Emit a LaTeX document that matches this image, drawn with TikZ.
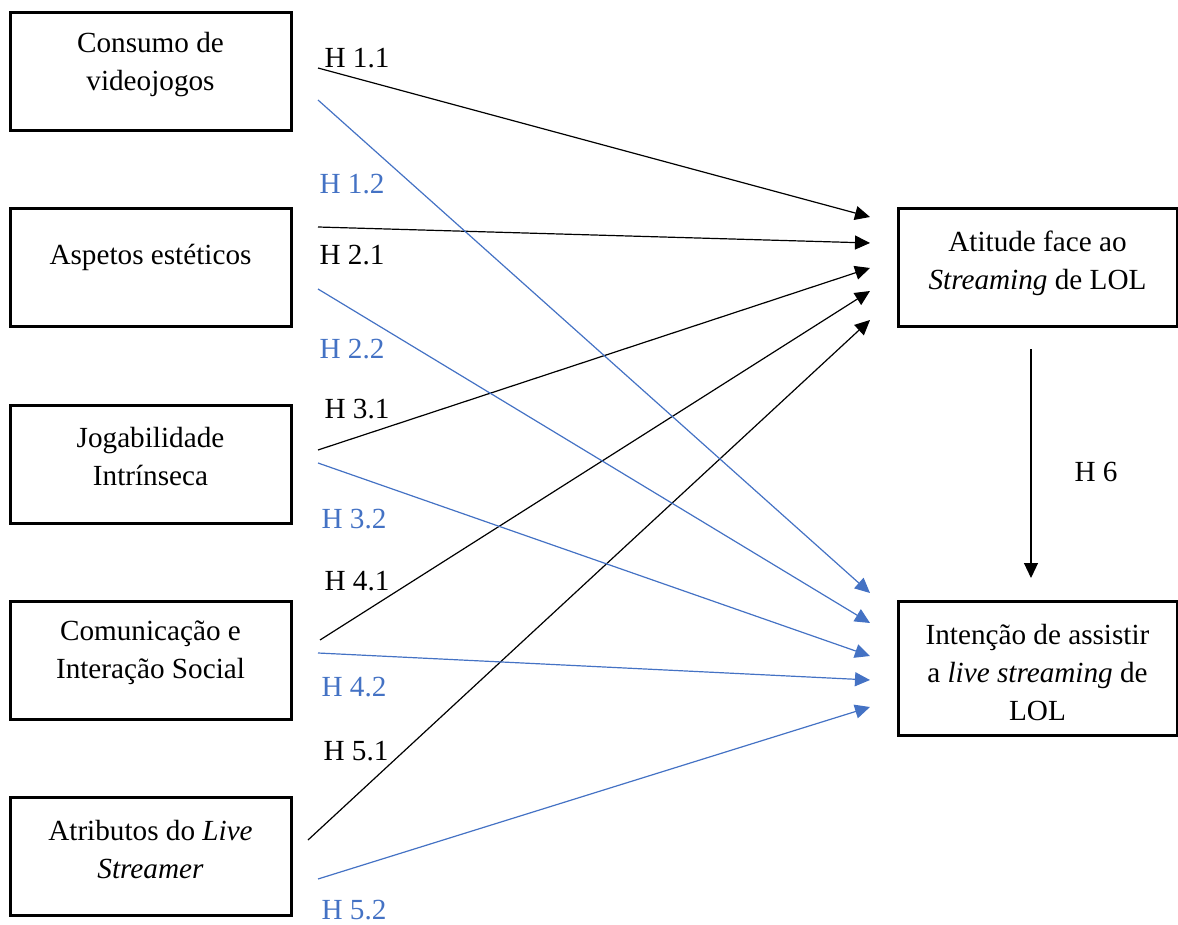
\documentclass[tikz,border=0pt]{standalone}
\usepackage{fontspec}
\setmainfont{Liberation Serif}
\usetikzlibrary{arrows.meta}
\definecolor{hblue}{HTML}{4472C4}
\begin{document}
\begin{tikzpicture}[x=0.5pt,y=-0.5pt,
  box/.style={draw=black,line width=1.5pt,inner sep=0pt,minimum width=140.5pt,minimum height=59pt},
  txt/.style={font=\fontsize{14.6}{19}\selectfont,align=center,inner sep=0pt},
  conn/.style={line width=0.6pt,-{Triangle[length=7.5pt,width=7pt]}},
  blk/.style={conn,black},
  blu/.style={conn,hblue},
  lab/.style={txt},
  blab/.style={txt,text=hblue}]
\useasboundingbox (0,0) rectangle (1178,925);
% left boxes
\node[box] (b1) at (150.5,72) {};
\node[box] (b2) at (150.5,268) {};
\node[box] (b3) at (150.5,464) {};
\node[box] (b4) at (150.5,660) {};
\node[box] (b5) at (150.5,856) {};
\node[txt] (t1) at (150.5,65) {Consumo de\\videojogos};
\node[txt] (t2) at (150.5,257) {Aspetos estéticos};
\node[txt] (t3) at (150.5,457) {Jogabilidade\\Intrínseca};
\node[txt] (t4) at (150.5,653) {Comunicação e\\Interação Social};
\node[txt] (t5) at (150.5,850) {Atributos do \textit{Live}\\\textit{Streamer}};
% right boxes
\node[box,minimum width=139.5pt] (ra) at (1037.5,268) {};
\node[box,minimum width=139.5pt,minimum height=67pt] (rb) at (1037.5,668) {};
\node[txt] (ta) at (1037.5,263) {Atitude face ao\\\textit{Streaming} de LOL};
\node[txt] (tb) at (1037.5,673) {Intenção de assistir\\a \textit{live streaming} de\\LOL};
% coordinates
\coordinate (s11) at (318,68);   \coordinate (e11) at (870,217);
\coordinate (s21) at (318,227);  \coordinate (e21) at (870,243);
\coordinate (s31) at (318,450);  \coordinate (e31) at (870,268);
\coordinate (s41) at (320,640);  \coordinate (e41) at (870,291);
\coordinate (s51) at (308,840);  \coordinate (e51) at (870,320);
\coordinate (s12) at (318,100);  \coordinate (e12) at (870,593);
\coordinate (s22) at (318,289);  \coordinate (e22) at (870,623);
\coordinate (s32) at (318,463);  \coordinate (e32) at (870,656);
\coordinate (s42) at (318,653);  \coordinate (e42) at (870,680);
\coordinate (s52) at (318,879);  \coordinate (e52) at (870,707);
\coordinate (s6) at (1031,349);  \coordinate (e6) at (1031,578);
% black arrows
\draw[blk] (s11) -- (e11);
\draw[blk] (s21) -- (e21);
\draw[blk] (s31) -- (e31);
\draw[blk] (s41) -- (e41);
\draw[blk] (s51) -- (e51);
% blue arrows
\draw[blu] (s12) -- (e12);
\draw[blu] (s22) -- (e22);
\draw[blu] (s32) -- (e32);
\draw[blu] (s42) -- (e42);
\draw[blu] (s52) -- (e52);
\draw[blk] (s6) -- (e6);
% labels
\node[lab] (h11) at (357,58) {H 1.1};
\node[blab] (h12) at (352,184) {H 1.2};
\node[lab] (h21) at (352,255) {H 2.1};
\node[blab] (h22) at (352,349) {H 2.2};
\node[lab] (h31) at (357,409) {H 3.1};
\node[blab] (h32) at (354,519) {H 3.2};
\node[lab] (h41) at (357,581) {H 4.1};
\node[blab] (h42) at (354,687) {H 4.2};
\node[lab] (h51) at (356,751) {H 5.1};
\node[blab] (h52) at (354,910) {H 5.2};
\node[lab] (h6) at (1096,472) {H 6};
\end{tikzpicture}
\end{document}
